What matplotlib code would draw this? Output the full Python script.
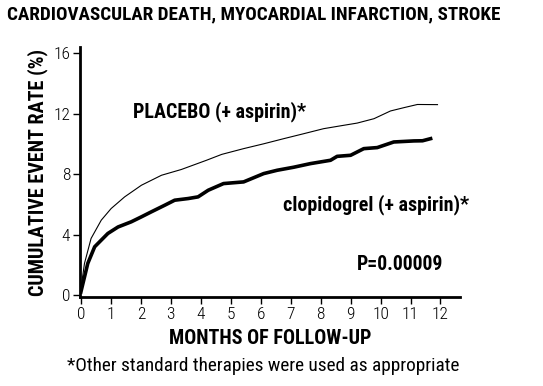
import matplotlib
matplotlib.use("Agg")
import matplotlib.pyplot as plt

# values (months, cumulative event rate %)
placebo_months = [0, 0.01, 0.12, 0.34, 0.68, 1.01, 1.46, 2.02, 2.69, 3.35, 4.19, 4.7,
                  5.43, 6.1, 6.77, 7.4, 8.1, 8.7, 9.22, 9.78, 10.33, 10.8, 11.23, 11.9]
placebo_rate = [0.2, 0.55, 2.09, 3.74, 4.95, 5.72, 6.49, 7.26, 7.92, 8.3, 8.91, 9.3,
                9.68, 10.0, 10.34, 10.65, 11.0, 11.2, 11.37, 11.66, 12.17, 12.4, 12.6, 12.59]

clopi_months = [0, 0.23, 0.46, 0.9, 1.24, 1.68, 2.02, 2.35, 2.8, 3.13, 3.58, 3.91, 4.25, 4.76,
                5.43, 6.1, 6.55, 7.1, 7.66, 8.33, 8.55, 9.0, 9.44, 9.89, 10.44, 11.11, 11.4, 11.67]
clopi_rate = [0.2, 2.09, 3.19, 4.07, 4.5, 4.84, 5.17, 5.5, 5.94, 6.27, 6.38, 6.49, 6.93, 7.37,
              7.48, 8.03, 8.25, 8.45, 8.69, 8.91, 9.17, 9.24, 9.68, 9.75, 10.12, 10.19, 10.2, 10.34]

x_ticks = list(range(0, 13))
y_ticks = [0, 4, 8, 12, 16]

cond = "Roboto Condensed"

fig = plt.figure(figsize=(5.43, 3.86), dpi=100)
ax = fig.add_axes([0.1473, 0.2306, 0.6998, 0.6476])

ax.plot(placebo_months, placebo_rate, color="black", lw=0.8)
ax.plot(clopi_months, clopi_rate, color="black", lw=2.6)

ax.set_xlim(-0.03, 12.65)
ax.set_ylim(-0.13, 16.4)
ax.set_xticks(x_ticks)
ax.set_yticks(y_ticks)
for s in ["top", "right"]:
    ax.spines[s].set_visible(False)
for s in ["left", "bottom"]:
    ax.spines[s].set_linewidth(2)
ax.tick_params(length=5, width=1, labelsize=12.5, pad=2)
for lab in ax.get_xticklabels() + ax.get_yticklabels():
    lab.set_family(cond)
    lab.set_fontweight("light")

ax.set_xlabel("MONTHS OF FOLLOW-UP", family=cond, fontweight="bold", fontsize=14.5, labelpad=5)
ax.set_ylabel("CUMULATIVE EVENT RATE (%)", family=cond, fontweight="bold", fontsize=14.5, labelpad=4)

fig.text(0.468, 0.962, "CARDIOVASCULAR DEATH, MYOCARDIAL INFARCTION, STROKE",
         family=cond, fontweight="bold", fontsize=13.8, ha="center", va="center")
fig.text(0.484, 0.053, "*Other standard therapies were used as appropriate",
         family=cond, fontsize=13.9, ha="center", va="center")

ax.text(1.75, 12.1, "PLACEBO (+ aspirin)*", family=cond, fontweight="bold", fontsize=14.4, va="center")
ax.text(6.75, 6.0, "clopidogrel (+ aspirin)*", family=cond, fontweight="bold", fontsize=14.4, va="center")
ax.text(9.2, 2.05, "P=0.00009", family=cond, fontweight="bold", fontsize=14.2, va="center")

fig.savefig("out.png", dpi=100)
